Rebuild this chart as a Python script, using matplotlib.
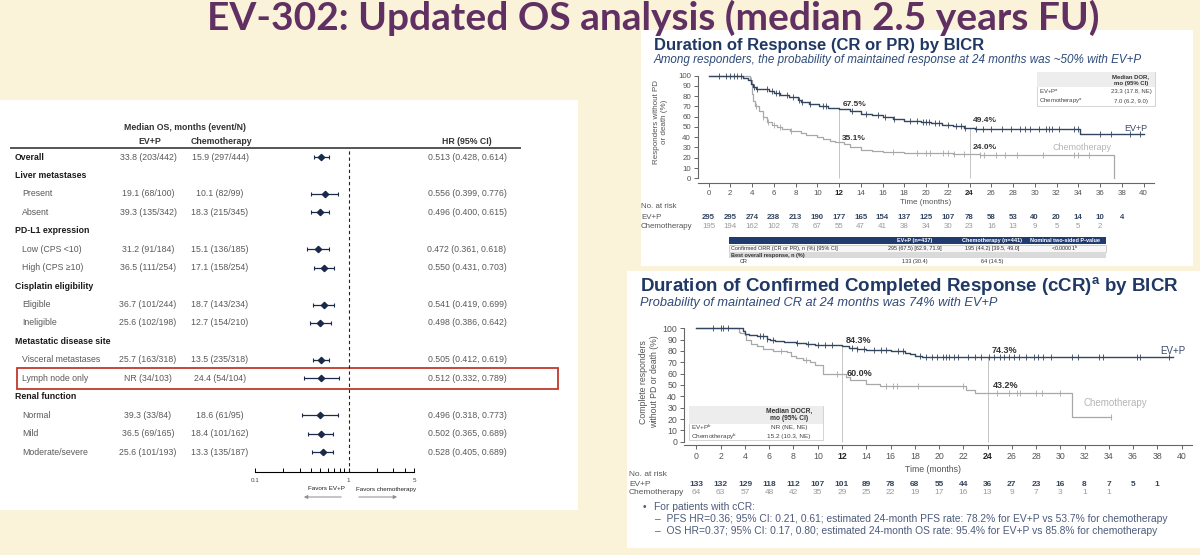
import numpy as np
import matplotlib
matplotlib.use('Agg')
import matplotlib.pyplot as plt
from matplotlib.patches import Rectangle
from matplotlib.transforms import blended_transform_factory
from matplotlib.ticker import NullFormatter

W, H = 1200, 555
BEIGE = '#FBF2DA'
NAVY = '#1F3864'
SUB_COL = '#2E4A78'
EVP_COL = '#34455F'
CHEMO_COL = '#A8A8A8'
GREY_TXT = '#5A5A5A'
TICK_COL = '#555555'

plt.rcParams['font.family'] = ['Liberation Sans', 'DejaVu Sans']

# ---------------- forest plot data (median OS, HR) ----------------
row_labels = ['Overall', 'Liver metastases', 'Present', 'Absent', 'PD-L1 expression',
              'Low (CPS <10)', 'High (CPS \u226510)', 'Cisplatin eligibility', 'Eligible',
              'Ineligible', 'Metastatic disease site', 'Visceral metastases',
              'Lymph node only', 'Renal function', 'Normal', 'Mild', 'Moderate/severe']
row_bold = [True, True, False, False, True, False, False, True, False, False,
            True, False, False, True, False, False, False]
evp_os = ['33.8 (203/442)', '', '19.1 (68/100)', '39.3 (135/342)', '', '31.2 (91/184)',
          '36.5 (111/254)', '', '36.7 (101/244)', '25.6 (102/198)', '', '25.7 (163/318)',
          'NR (34/103)', '', '39.3 (33/84)', '36.5 (69/165)', '25.6 (101/193)']
chemo_os = ['15.9 (297/444)', '', '10.1 (82/99)', '18.3 (215/345)', '', '15.1 (136/185)',
            '17.1 (158/254)', '', '18.7 (143/234)', '12.7 (154/210)', '', '13.5 (235/318)',
            '24.4 (54/104)', '', '18.6 (61/95)', '18.4 (101/162)', '13.3 (135/187)']
nan = np.nan
hr = [0.513, nan, 0.556, 0.496, nan, 0.472, 0.550, nan, 0.541, 0.498, nan, 0.505,
      0.512, nan, 0.496, 0.502, 0.528]
hr_lo = [0.428, nan, 0.399, 0.400, nan, 0.361, 0.431, nan, 0.419, 0.386, nan, 0.412,
         0.332, nan, 0.318, 0.365, 0.405]
hr_hi = [0.614, nan, 0.776, 0.615, nan, 0.618, 0.703, nan, 0.699, 0.642, nan, 0.619,
         0.789, nan, 0.773, 0.689, 0.689]
highlight_row = 12

# ---------------- DOR (CR or PR) KM data ----------------
dor_evp_t = [0, 3.2, 3.6, 3.9, 4.1, 4.4, 5.6, 6.0, 6.6, 7.4, 8.2, 8.5, 9.2, 10.2, 11.0,
             12.0, 13.0, 14.0, 15.0, 16.0, 17.0, 18.0, 19.5, 20.5, 21.5, 22.5, 23.5,
             24.5, 25.0, 34.2, 40.0]
dor_evp_s = [100, 98, 96, 92, 89, 87, 85, 83, 81, 79, 76, 74, 72, 70, 68, 67.5, 65, 63,
             62, 60, 58, 56, 55, 54, 52, 50.5, 49.4, 48, 47.5, 43, 43]
dor_evp_cens = [1.0, 1.6, 2.0, 2.3, 2.6, 3.0, 4.2, 4.5, 5.4, 5.8, 6.2, 6.5, 7.2, 7.8,
                8.3, 8.6, 9.3, 10.5, 10.8, 13.2, 14.5, 15.6, 16.2, 17.1, 18.5, 19.2,
                19.7, 20.0, 20.3, 20.8, 21.2, 22.0, 22.8, 23.2, 23.6, 24.6, 25.2, 26.0,
                27.0, 27.8, 28.6, 29.1, 29.6, 30.4, 31.0, 31.3, 31.6, 32.2, 33.6, 34.0,
                36.0, 37.0, 38.8, 39.7]
dor_chemo_t = [0, 3.8, 4.0, 4.1, 4.3, 4.6, 5.0, 5.4, 5.8, 6.3, 6.8, 7.5, 8.5, 9.0, 10.0,
               10.5, 11.2, 11.6, 12.0, 12.5, 13.0, 14.0, 15.0, 16.0, 18.0, 22.5, 25.0,
               37.3]
dor_chemo_s = [100, 96, 82, 75, 70, 65, 60, 55, 52, 50, 48, 46, 44, 42, 40, 38, 36.5,
               35.5, 35.1, 33, 30, 28, 27, 26, 25, 24, 23, 0]
dor_chemo_cens = [3.9, 4.4, 5.0, 5.5, 6.0, 6.6, 7.6, 17.0, 19.2, 20.0, 20.4, 21.6, 22.0,
                  22.6, 23.5, 25.0, 25.3, 26.4, 27.3, 28.4, 30.8, 33.6, 34.0, 35.0]
dor_landmarks = [12, 24]
dor_evp_at = [67.5, 49.4]
dor_chemo_at = [35.1, 24.0]
dor_risk_t = list(range(0, 40, 2))
dor_evp_risk = [295, 295, 274, 238, 213, 190, 177, 165, 154, 137, 125, 107, 78, 58, 53,
                40, 20, 14, 10, 4]
dor_chemo_risk = [195, 194, 162, 102, 78, 67, 55, 47, 41, 38, 34, 30, 23, 16, 13, 9, 5,
                  5, 2]

# ---------------- DOCR (cCR) KM data ----------------
cr_evp_t = [0, 3.8, 4.0, 4.3, 5.0, 5.8, 6.1, 6.5, 7.2, 8.2, 9.0, 9.8, 11.0, 12.0, 12.6,
            13.2, 14.0, 16.0, 17.2, 17.6, 18.0, 18.6, 39.3]
cr_evp_s = [100, 98, 95, 94, 93, 91, 90, 89, 88, 87, 86, 85.5, 85, 84.3, 83, 82, 81, 80,
            78, 77, 75.5, 74.3, 74.3]
cr_evp_cens = [1.4, 2.0, 2.2, 2.6, 5.2, 5.5, 5.8, 6.3, 8.3, 9.2, 10.0, 10.6, 11.2, 12.8,
               13.2, 13.8, 14.6, 15.2, 15.6, 16.6, 17.0, 18.4, 18.9, 19.4, 19.8, 20.3,
               20.6, 20.8, 21.2, 21.6, 22.4, 23.0, 23.5, 24.1, 24.5, 25.0, 25.4, 25.8,
               26.2, 26.6, 27.2, 27.8, 28.2, 28.6, 29.2, 31.0, 31.5, 33.2, 33.5, 36.3,
               36.6, 39.0]
cr_chemo_t = [0, 3.5, 3.6, 4.0, 4.1, 4.5, 5.0, 5.5, 6.3, 7.5, 7.8, 8.2, 8.8, 9.4, 9.8,
              10.4, 12.3, 12.7, 14.0, 15.1, 22.2, 23.0, 31.0, 34.2]
cr_chemo_s = [100, 97, 96, 94, 90, 86, 84, 82, 80, 79, 76, 74, 72, 70, 68, 60, 57, 54,
              51, 49.5, 46, 43.2, 21.6, 21.6]
cr_chemo_cens = [7.0, 9.0, 11.6, 15.6, 16.2, 16.5, 18.3, 22.0, 24.8, 25.8, 26.4, 26.7,
                 28.0, 28.5, 30.0, 34.2]
cr_landmarks = [12, 24]
cr_evp_at = [84.3, 74.3]
cr_chemo_at = [60.0, 43.2]
cr_risk_t = list(range(0, 40, 2))
cr_evp_risk = [133, 132, 129, 118, 112, 107, 101, 89, 78, 68, 55, 44, 36, 27, 23, 16, 8,
               7, 5, 1]
cr_chemo_risk = [64, 63, 57, 48, 42, 35, 29, 25, 22, 19, 17, 16, 13, 9, 7, 3, 1, 1]


def fx(x):
    return x / W


def fy(y):
    return 1 - y / H


def px_box(x0, y0, x1, y1):
    return [x0 / W, 1 - y1 / H, (x1 - x0) / W, (y1 - y0) / H]


def fig_rect(fig, x0, y0, x1, y1, **kw):
    fig.add_artist(Rectangle((fx(x0), fy(y1)), (x1 - x0) / W, (y1 - y0) / H,
                             transform=fig.transFigure, **kw))


def km_axes(fig, x0, x1, top, bottom, t0, t40, y100, y0):
    ax = fig.add_axes(px_box(x0, top, x1, bottom))
    ax.patch.set_visible(False)
    per_t = (t40 - t0) / 40
    per_y = (y0 - y100) / 100
    ax.set_xlim((x0 - t0) / per_t, (x1 - t0) / per_t)
    ax.set_ylim(-(bottom - y0) / per_y, 100 + (y100 - top) / per_y)
    for s in ['top', 'right']:
        ax.spines[s].set_visible(False)
    ax.spines['left'].set_bounds(0, 100)
    for s in ['left', 'bottom']:
        ax.spines[s].set_color('#666666')
        ax.spines[s].set_linewidth(0.8)
    return ax


def draw_km(ax, t, s, cens, color, lw):
    t = np.array(t)
    s = np.array(s)
    ax.step(t, s, where='post', color=color, lw=lw)
    c = np.array(cens)
    cy = s[np.searchsorted(t, c, side='right') - 1]
    ax.plot(c, cy, ls='none', marker='|', ms=4, mew=0.6, color=color)


def km_ticks(ax, size):
    ticks = list(range(0, 41, 2))
    ax.set_xticks(ticks, labels=[str(v) for v in ticks])
    ax.set_yticks(range(0, 101, 10))
    ax.tick_params(labelsize=size, colors='#666666', labelcolor=TICK_COL, length=3,
                   width=0.7, pad=2)
    for lab in ax.get_xticklabels():
        if lab.get_text() in ('12', '24'):
            lab.set_fontweight('bold')
            lab.set_color('#222222')


def at_risk(fig, ax, times, evp, chemo, x_lab, y_head, y_evp, y_chemo, size):
    tr = blended_transform_factory(ax.transData, fig.transFigure)
    fig.text(fx(x_lab), fy(y_head), 'No. at risk', fontsize=size, color=TICK_COL,
             va='center')
    fig.text(fx(x_lab), fy(y_evp), 'EV+P', fontsize=size, color=TICK_COL, va='center')
    fig.text(fx(x_lab), fy(y_chemo), 'Chemotherapy', fontsize=size, color=TICK_COL,
             va='center')
    for t, n in zip(times, evp):
        ax.text(t, fy(y_evp), str(n), transform=tr, ha='center', va='center',
                fontsize=size, fontweight='bold', color=EVP_COL)
    for t, n in zip(times, chemo):
        ax.text(t, fy(y_chemo), str(n), transform=tr, ha='center', va='center',
                fontsize=size, color='#9A9A9A')


fig = plt.figure(figsize=(12, 5.55), dpi=100)
fig.patch.set_facecolor(BEIGE)

# white panels
fig_rect(fig, 0, 100, 578, 510, facecolor='white', edgecolor='none', zorder=-5)
fig_rect(fig, 641, 30, 1193, 266, facecolor='white', edgecolor='none', zorder=-5)
fig_rect(fig, 627, 271, 1200, 548, facecolor='white', edgecolor='none', zorder=-5)

fig.text(fx(653), fy(30), 'EV-302: Updated OS analysis (median 2.5 years FU)',
         ha='center', va='baseline', fontsize=28, fontweight='bold', color='#613063',
         family='Lato', zorder=10)

# ================= forest plot =================
ROW0, STEP = 157, 18.44


def row_of(py):
    return (py - ROW0) / STEP


tax = fig.add_axes(px_box(0, 100, 578, 510))
tax.set_xlim(0, 578)
tax.set_ylim(row_of(510), row_of(100))
tax.axis('off')

FS = 6.3
tax.text(185, row_of(127), 'Median OS, months (event/N)', ha='center', va='center',
         fontsize=FS, fontweight='bold', color='#333333')
tax.text(150, row_of(141), 'EV+P', ha='center', va='center', fontsize=FS,
         fontweight='bold', color='#333333')
tax.text(221, row_of(141), 'Chemotherapy', ha='center', va='center', fontsize=FS,
         fontweight='bold', color='#333333')
tax.text(467, row_of(141), 'HR (95% CI)', ha='center', va='center', fontsize=FS,
         fontweight='bold', color='#333333')
tax.plot([11, 520], [row_of(148)] * 2, color='#555555', lw=1.4)

for i, lab in enumerate(row_labels):
    if row_bold[i]:
        tax.text(15, i, lab, va='center', fontsize=FS, fontweight='bold', color='#1A1A1A')
    else:
        tax.text(22, i, lab, va='center', fontsize=FS, color=GREY_TXT)
    if evp_os[i]:
        tax.text(148, i, evp_os[i], ha='center', va='center', fontsize=FS, color=GREY_TXT)
        tax.text(220, i, chemo_os[i], ha='center', va='center', fontsize=FS, color=GREY_TXT)
    if not np.isnan(hr[i]):
        tax.text(467, i, f'{hr[i]:.3f} ({hr_lo[i]:.3f}, {hr_hi[i]:.3f})', ha='center',
                 va='center', fontsize=FS, color=GREY_TXT)

tax.add_patch(Rectangle((17, highlight_row - 0.58), 541, 1.16, fill=False,
                        edgecolor='#C0392B', lw=1.3))

fax = fig.add_axes(px_box(255, 148, 414, 472))
fax.patch.set_visible(False)
fax.set_xscale('log')
fax.set_xlim(0.1, 5)
fax.set_ylim(row_of(472), row_of(148))
for s in ['top', 'right', 'left']:
    fax.spines[s].set_visible(False)
fax.spines['bottom'].set_linewidth(0.8)
fax.set_yticks([])
fax.set_xticks([0.1, 1, 5], labels=['0.1', '1', '5'])
fax.set_xticks([0.2, 0.3, 0.4, 0.5, 0.6, 0.7, 0.8, 0.9, 2, 3, 4], minor=True)
fax.xaxis.set_minor_formatter(NullFormatter())
fax.tick_params(axis='x', which='both', direction='in', length=3, width=0.7,
                labelsize=4.5, pad=4, labelcolor='#444444')
fax.axvline(1, color='#222222', lw=0.8, ls=(0, (3, 2.5)))

hr_a = np.array(hr)
ok = ~np.isnan(hr_a)
rows = np.arange(len(hr))[ok]
lo = np.array(hr_lo)[ok]
hi = np.array(hr_hi)[ok]
fax.errorbar(hr_a[ok], rows, xerr=[hr_a[ok] - lo, hi - hr_a[ok]], fmt='D', ms=3.2,
             color='#1B2A4A', ecolor='#1B2A4A', elinewidth=0.9, capsize=1.6,
             capthick=0.8)

tax.text(345, row_of(489), 'Favors EV+P', ha='right', va='center', fontsize=4.5,
         color='#222222')
tax.text(356, row_of(489), 'Favors chemotherapy', ha='left', va='center', fontsize=4.5,
         color='#222222')
arrow_kw = dict(arrowstyle='-|>', mutation_scale=5, lw=0.8, ec='#9A9A9A', fc='#111111')
tax.annotate('', xy=(301, row_of(497)), xytext=(344, row_of(497)), arrowprops=arrow_kw)
tax.annotate('', xy=(400, row_of(497)), xytext=(356, row_of(497)), arrowprops=arrow_kw)

# ================= DOR panel =================
fig.text(fx(654), fy(45), 'Duration of Response (CR or PR) by BICR', fontsize=12,
         fontweight='bold', color=NAVY, va='center', zorder=11)
fig.text(fx(654), fy(59.5), 'Among responders, the probability of maintained response at '
         '24 months was ~50% with EV+P', fontsize=8.4, style='italic', color=SUB_COL,
         va='center')

ax1 = km_axes(fig, 698, 1154, 72, 183, 708.5, 1143.5, 75.5, 178.3)
ax1.vlines(dor_landmarks, 0, dor_evp_at, color='#C4C4C4', lw=0.7)
draw_km(ax1, dor_chemo_t, dor_chemo_s, dor_chemo_cens, CHEMO_COL, 0.9)
draw_km(ax1, dor_evp_t, dor_evp_s, dor_evp_cens, EVP_COL, 1.0)
km_ticks(ax1, 5.7)
for t, v, dy in zip(dor_landmarks, dor_evp_at, [4.5, 6.5]):
    ax1.text(t + 0.3, v + dy, f'{v:.1f}%', fontsize=6, fontweight='bold', color='#333333',
             va='center')
for t, v, dy in zip(dor_landmarks, dor_chemo_at, [4, 6]):
    ax1.text(t + 0.3, v + dy, f'{v:.1f}%', fontsize=6, fontweight='bold', color='#333333',
             va='center')
ax1.text(40.4, 48.5, 'EV+P', ha='right', va='center', fontsize=6.5, color='#3A4B6A')
ax1.text(34.3, 30, 'Chemotherapy', ha='center', va='center', fontsize=6.5,
         color='#B5B5B5')
tr1 = blended_transform_factory(ax1.transData, fig.transFigure)
ax1.text(20, fy(202), 'Time (months)', transform=tr1, ha='center', va='center',
         fontsize=5.8, color=TICK_COL)
fig.text(fx(660), fy(122), 'Responders without PD\nor death (%)', rotation=90,
         ha='center', va='center', fontsize=5.8, color=TICK_COL, linespacing=1.2)
at_risk(fig, ax1, dor_risk_t, dor_evp_risk, dor_chemo_risk, 641, 207, 217.7, 226.7, 5.7)

# median DOR inset
fig_rect(fig, 1037, 72, 1155, 106, facecolor='white', edgecolor='#CCCCCC', lw=0.6)
fig_rect(fig, 1037, 72, 1155, 87, facecolor='#EDEDED', edgecolor='none')
for txt, y in [('Median DOR,', 77), ('mo (95% CI)', 83)]:
    fig.text(fx(1131), fy(y), txt, ha='center', va='center', fontsize=4.3,
             fontweight='bold', color='#333333')
for lab, val, y in [('EV+P$^\\mathregular{a}$', '23.3 (17.8, NE)', 92),
                    ('Chemotherapy$^\\mathregular{a}$', '7.0 (6.2, 9.0)', 101)]:
    fig.text(fx(1039), fy(y), lab, va='center', fontsize=4.3, color='#444444')
    fig.text(fx(1131), fy(y), val, ha='center', va='center', fontsize=4.3,
             color='#444444')

# ORR table (cut by panel edge)
fig_rect(fig, 729, 237, 1106, 244, facecolor='#1F3B6F', edgecolor='none')
for txt, x in [('EV+P (n=437)', 915), ('Chemotherapy (n=441)', 992),
               ('Nominal two-sided P-value', 1065)]:
    fig.text(fx(x), fy(240.5), txt, ha='center', va='center', fontsize=4,
             fontweight='bold', color='white')
fig_rect(fig, 729, 244.5, 1106, 252, facecolor='#F7F7F7', edgecolor='#BBBBBB', lw=0.5)
fig.text(fx(731), fy(248.3), 'Confirmed ORR (CR or PR), n (%) [95% CI]', va='center',
         fontsize=4, color='#333333')
for txt, x in [('295 (67.5) [62.9, 71.9]', 915), ('195 (44.2) [39.5, 49.0]', 992),
               ('<0.00001$^\\mathregular{b}$', 1065)]:
    fig.text(fx(x), fy(248.3), txt, ha='center', va='center', fontsize=4,
             color='#333333')
fig_rect(fig, 729, 252, 1106, 258, facecolor='#DADADA', edgecolor='none')
fig.text(fx(731), fy(255), 'Best overall response, n (%)', va='center', fontsize=4,
         fontweight='bold', color='#333333')
fig.text(fx(740), fy(261), 'CR', va='center', fontsize=4, color='#333333')
fig.text(fx(915), fy(261), '133 (30.4)', ha='center', va='center', fontsize=4,
         color='#333333')
fig.text(fx(992), fy(261), '64 (14.5)', ha='center', va='center', fontsize=4,
         color='#333333')

# ================= DOCR panel =================
fig.text(fx(640), fy(287), 'Duration of Confirmed Completed Response (cCR)'
         '$^\\mathregular{a}$ by BICR', fontsize=13.5, fontweight='bold', color=NAVY,
         va='center')
fig.text(fx(640), fy(303), 'Probability of maintained CR at 24 months was 74% with EV+P',
         fontsize=9.2, style='italic', color=SUB_COL, va='center')

ax2 = km_axes(fig, 684, 1192, 325, 445, 696.5, 1181.5, 328.3, 441.7)
ax2.vlines(cr_landmarks, 0, cr_evp_at, color='#C4C4C4', lw=0.7)
draw_km(ax2, cr_chemo_t, cr_chemo_s, cr_chemo_cens, CHEMO_COL, 0.9)
draw_km(ax2, cr_evp_t, cr_evp_s, cr_evp_cens, EVP_COL, 1.0)
km_ticks(ax2, 6.3)
for t, v, dy in zip(cr_landmarks, cr_evp_at, [4.7, 6.3]):
    ax2.text(t + 0.3, v + dy, f'{v:.1f}%', fontsize=6.5, fontweight='bold',
             color='#333333', va='center')
for t, v, dy in zip(cr_landmarks, cr_chemo_at, [0, 6.8]):
    ax2.text(t + 0.4, v + dy, f'{v:.1f}%', fontsize=6.5, fontweight='bold',
             color='#333333', va='center')
ax2.text(40.3, 80, 'EV+P', ha='right', va='center', fontsize=7, color='#3A4B6A')
ax2.text(34.5, 33.8, 'Chemotherapy', ha='center', va='center', fontsize=7,
         color='#B5B5B5')
tr2 = blended_transform_factory(ax2.transData, fig.transFigure)
ax2.text(19.5, fy(469), 'Time (months)', transform=tr2, ha='center', va='center',
         fontsize=6.3, color=TICK_COL)
fig.text(fx(649), fy(382), 'Complete responders\nwithout PD or death (%)', rotation=90,
         ha='center', va='center', fontsize=6.3, color=TICK_COL, linespacing=1.2)
at_risk(fig, ax2, cr_risk_t, cr_evp_risk, cr_chemo_risk, 629, 474, 485, 493, 6.0)

# median DOCR inset
fig_rect(fig, 689, 406, 823, 440, facecolor='white', edgecolor='#CCCCCC', lw=0.6)
fig_rect(fig, 689, 406, 823, 424, facecolor='#EDEDED', edgecolor='none')
for txt, y in [('Median DOCR,', 411), ('mo (95% CI)', 418.5)]:
    fig.text(fx(789), fy(y), txt, ha='center', va='center', fontsize=4.8,
             fontweight='bold', color='#333333')
for lab, val, y in [('EV+P$^\\mathregular{b}$', 'NR (NE, NE)', 427),
                    ('Chemotherapy$^\\mathregular{b}$', '15.2 (10.3, NE)', 436.5)]:
    fig.text(fx(691), fy(y), lab, va='center', fontsize=4.6, color='#444444')
    fig.text(fx(789), fy(y), val, ha='center', va='center', fontsize=4.6,
             color='#444444')

# footnotes
FOOT = '#4D5B7C'
fig.text(fx(643), fy(507), '\u2022', va='center', fontsize=7.4, color=FOOT)
fig.text(fx(654), fy(507), 'For patients with cCR:', va='center', fontsize=7.4, color=FOOT)
fig.text(fx(655), fy(519.5), '\u2013  PFS HR=0.36; 95% CI: 0.21, 0.61; estimated 24-month '
         'PFS rate: 78.2% for EV+P vs 53.7% for chemotherapy', va='center', fontsize=7.4,
         color=FOOT)
fig.text(fx(655), fy(531), '\u2013  OS HR=0.37; 95% CI: 0.17, 0.80; estimated 24-month '
         'OS rate: 95.4% for EV+P vs 85.8% for chemotherapy', va='center', fontsize=7.4,
         color=FOOT)

fig.savefig('out.png', dpi=100, facecolor=BEIGE)
